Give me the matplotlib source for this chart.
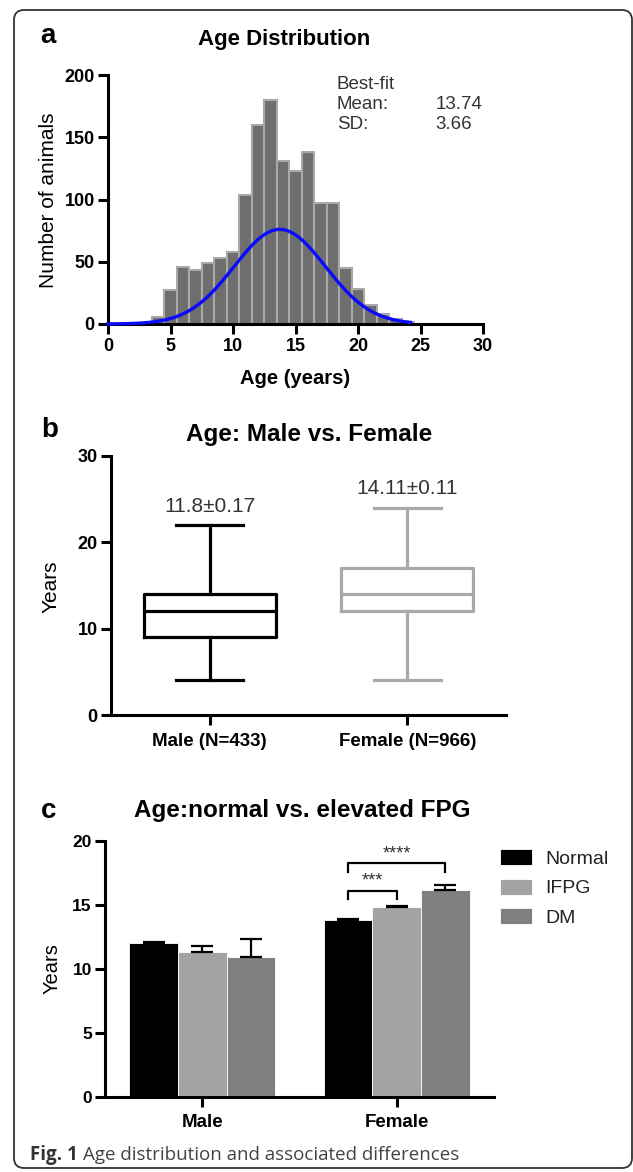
import numpy as np
import matplotlib
matplotlib.use('Agg')
import matplotlib.pyplot as plt
from matplotlib.patches import FancyBboxPatch
from matplotlib.transforms import IdentityTransform

plt.rcParams['font.family'] = ['Liberation Sans', 'DejaVu Sans']

# ---- panel a: age histogram (1-year bins) + gaussian fit
hist_age = [4, 5, 6, 7, 8, 9, 10, 11, 12, 13, 14, 15, 16, 17, 18, 19, 20, 21, 22, 23, 24]
hist_count = [6, 27, 46, 43, 49, 53, 58, 104, 160, 180, 131, 123, 138, 97, 97, 45, 28, 15, 8, 4, 2]
fit_mean = 13.74
fit_sd = 3.66
fit_peak = 76
fit_end = 24.2

# ---- panel b: box plots
sex_labels = ['Male (N=433)', 'Female (N=966)']
box_min = [4, 4]
box_q1 = [9, 12]
box_med = [12, 14]
box_q3 = [14, 17]
box_max = [22, 24]
box_notes = ['11.8\u00b10.17', '14.11\u00b10.11']
note_y = [24.1, 26.2]

# ---- panel c: mean age by FPG class (mean + SEM)
groups = ['Male', 'Female']
fpg_classes = ['Normal', 'IFPG', 'DM']
normal_mean = [12.0, 13.8]
ifpg_mean = [11.35, 14.85]
dm_mean = [10.95, 16.2]
normal_sem = [0.1, 0.07]
ifpg_sem = [0.45, 0.1]
dm_sem = [1.4, 0.35]
# significance brackets (female group): (from class, to class, bar level, label)
sig_from = [0, 0]
sig_to = [1, 2]
sig_level = [16.13, 18.26]
sig_text = ['***', '****']

W, H = 633, 1172
fig = plt.figure(figsize=(W / 100, H / 100), dpi=100)


def rect(left, right, top, bottom):
    return [left / W, 1 - bottom / H, (right - left) / W, (bottom - top) / H]


def style(ax, fs=13):
    for s in ['top', 'right']:
        ax.spines[s].set_visible(False)
    for s in ['left', 'bottom']:
        ax.spines[s].set_linewidth(2.2)
    ax.tick_params(direction='out', length=7, width=2.2, labelsize=fs, pad=2.5)
    for lab in ax.get_xticklabels() + ax.get_yticklabels():
        lab.set_fontweight('bold')


def ftext(x, y, s, **kw):
    return fig.text(x / W, 1 - y / H, s, ha=kw.pop('ha', 'center'), va=kw.pop('va', 'center'), **kw)


# ================= a =================
ax = fig.add_axes(rect(108, 483, 75, 324))
ax.bar(hist_age, hist_count, width=1, color='#6e6e6e', edgecolor='#a9a9a9', linewidth=1.5, zorder=2)
xs = np.linspace(0, fit_end, 300)
ax.plot(xs, fit_peak * np.exp(-0.5 * ((xs - fit_mean) / fit_sd) ** 2), color='#0a0aff', lw=2.4,
        zorder=3, clip_on=False)
ax.set_xlim(0, 30)
ax.set_ylim(0, 200)
ax.set_xticks(range(0, 31, 5))
ax.set_yticks(range(0, 201, 50))
style(ax)
ax.tick_params(axis='x', pad=3)
fit_kw = dict(fontsize=13.5, color='#333333', va='center')
ax.text(18.3, 192, 'Best-fit', **fit_kw)
ax.text(18.3, 176, 'Mean:', **fit_kw)
ax.text(18.3, 160, 'SD:', **fit_kw)
ax.text(26.2, 176, f'{fit_mean:.2f}', **fit_kw)
ax.text(26.2, 160, f'{fit_sd:.2f}', **fit_kw)
ftext(48, 36, 'a', fontsize=20, fontweight='bold')
ftext(284, 40, 'Age Distribution', fontsize=16, fontweight='bold')
ftext(48, 200, 'Number of animals', fontsize=15, rotation=90)
ftext(295, 378, 'Age (years)', fontsize=14.5, fontweight='bold')

# ================= b =================
ax = fig.add_axes(rect(111, 506, 456, 715))
box_colors = ['black', '#a9a9a9']
for i in range(2):
    st = [dict(whislo=box_min[i], q1=box_q1[i], med=box_med[i], q3=box_q3[i], whishi=box_max[i], fliers=[])]
    c = box_colors[i]
    props = dict(color=c, linewidth=2.3)
    ax.bxp(st, positions=[i], widths=0.67, capwidths=0.34, showfliers=False, manage_ticks=False,
           boxprops=props, whiskerprops=props, capprops=props, medianprops=props)
    ax.text(i, note_y[i], box_notes[i], fontsize=15, color='#333333', ha='center', va='center')
ax.set_xlim(-0.5, 1.5)
ax.set_ylim(0, 30)
ax.set_yticks([0, 10, 20, 30])
ax.set_xticks([0, 1])
ax.set_xticklabels(sex_labels)
style(ax)
ax.tick_params(axis='x', pad=6, labelsize=13.5)
ftext(50, 430, 'b', fontsize=20, fontweight='bold')
ftext(309, 435, 'Age: Male vs. Female', fontsize=17.5, fontweight='bold')
ftext(51, 587, 'Years', fontsize=15, rotation=90)

# ================= c =================
ax = fig.add_axes(rect(105, 494, 841, 1097))
xg = np.arange(len(groups))
bw = 0.25
means = [normal_mean, ifpg_mean, dm_mean]
sems = [normal_sem, ifpg_sem, dm_sem]
bar_colors = ['black', '#a3a3a6', '#808080']
handles = []
for k in range(3):
    xpos = xg + (k - 1) * bw
    b = ax.bar(xpos, means[k], width=bw, color=bar_colors[k], edgecolor='white', linewidth=0.6, zorder=2)
    handles.append(b)
    ax.errorbar(xpos, means[k], yerr=[np.zeros(len(groups)), sems[k]], fmt='none', ecolor='black',
                elinewidth=1.6, capsize=8, capthick=1.6, zorder=3)
for i in range(len(sig_text)):
    x0 = 1 + (sig_from[i] - 1) * bw
    x1 = 1 + (sig_to[i] - 1) * bw
    lv = sig_level[i]
    ax.plot([x0, x0, x1, x1], [lv - 0.65, lv, lv, lv - 0.65], color='black', lw=1.6)
    ax.text((x0 + x1) / 2, lv + 0.75, sig_text[i], fontsize=13, ha='center', va='center', color='#333333')
ax.set_xlim(-0.5, 1.5)
ax.set_ylim(0, 20)
ax.set_yticks([0, 5, 10, 15, 20])
ax.set_xticks(xg)
ax.set_xticklabels(groups)
style(ax, fs=12.5)
ax.tick_params(axis='x', pad=5, labelsize=13.5)
leg = ax.legend(handles, fpg_classes, loc='upper left', bbox_to_anchor=(500 / W, 1 - 849 / H),
                bbox_transform=fig.transFigure, frameon=False, fontsize=14, handlelength=1.65,
                handleheight=0.88, handletextpad=0.69, labelspacing=0.57, borderpad=0, borderaxespad=0)
for t in leg.get_texts():
    t.set_color('#222222')
ftext(49, 811, 'c', fontsize=20, fontweight='bold')
ftext(302, 810, 'Age:normal vs. elevated FPG', fontsize=17.5, fontweight='bold')
ftext(52, 969, 'Years', fontsize=14.5, rotation=90)

# ================= caption + frame =================
cap_kw = dict(fontsize=13.5, family=['Open Sans', 'DejaVu Sans'])
cap1 = ftext(30, 1155, 'Fig. 1', ha='left', fontweight='bold', color='#333333', **cap_kw)
fig.canvas.draw()
bb = cap1.get_window_extent()
fig.text((bb.x1 + 5) / W, 1 - 1155 / H, 'Age distribution and associated differences', ha='left',
         va='center', color='#444444', **cap_kw)

frame = FancyBboxPatch((14, H - 1168), 618, 1158, boxstyle='round,pad=0,rounding_size=10',
                       transform=IdentityTransform(), facecolor='none', edgecolor='#333333', lw=1.3)
fig.add_artist(frame)

fig.savefig('out.png', dpi=100)
